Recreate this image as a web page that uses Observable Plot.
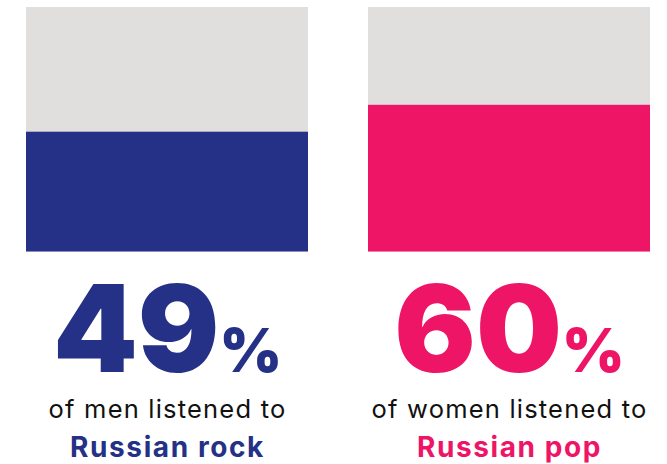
<!DOCTYPE html>
<html>
<head>
<meta charset="utf-8">
<script src="https://cdn.jsdelivr.net/npm/d3@7"></script>
<script src="https://cdn.jsdelivr.net/npm/@observablehq/plot@0.6"></script>
<style>
  html, body { margin: 0; padding: 0; background: #fff; }
  #chart svg { display: block; }
  .subj { letter-spacing: 1.2px; }
  .genre { letter-spacing: 1.6px; }
</style>
</head>
<body>
<div id="chart"></div>
<script>
const groups = ["men", "women"];
const shares = [49, 60];
const genres = ["Russian rock", "Russian pop"];
const subjects = ["of men listened to", "of women listened to"];
const colors = ["#243186", "#ee1566"];

const data = groups.map((g, i) => ({
  group: g, share: shares[i], genre: genres[i], subject: subjects[i], color: colors[i], full: 100
}));

const font = "Inter, 'Noto Sans', sans-serif";

function addPercent(index, scales, values, dims, context, next) {
  const g = next(index, scales, values, dims, context);
  d3.select(g).selectAll("text").each(function () {
    const t = d3.select(this);
    t.append("tspan").attr("font-size", 60).attr("dx", 0).text("%");
  });
  return g;
}

const chart = Plot.plot({
  width: 667,
  height: 464,
  marginLeft: 26,
  marginRight: 17,
  marginTop: 7,
  marginBottom: 212.5,
  x: { type: "band", domain: groups, paddingInner: 60 / 342, paddingOuter: 0, axis: null },
  y: { domain: [0, 100], axis: null },
  style: { fontFamily: font, background: "#fff" },
  marks: [
    Plot.barY(data, { x: "group", y: "full", fill: "#e0dfdd" }),
    Plot.barY(data, { x: "group", y: "share", fill: "color" }),
    Plot.text(data, {
      x: "group", frameAnchor: "bottom", text: d => String(d.share),
      fill: "color", fontSize: 121, fontWeight: 900, lineAnchor: "bottom",
      dy: 120, render: addPercent
    }),
    Plot.text(data, {
      x: "group", frameAnchor: "bottom", text: "subject", className: "subj",
      fill: "#111", fontSize: 25.5, fontWeight: 400, lineAnchor: "bottom", dy: 166
    }),
    Plot.text(data, {
      x: "group", frameAnchor: "bottom", text: "genre", className: "genre",
      fill: "color", fontSize: 28, fontWeight: 700, lineAnchor: "bottom", dy: 205
    })
  ]
});

document.getElementById("chart").appendChild(chart);
</script>
</body>
</html>
